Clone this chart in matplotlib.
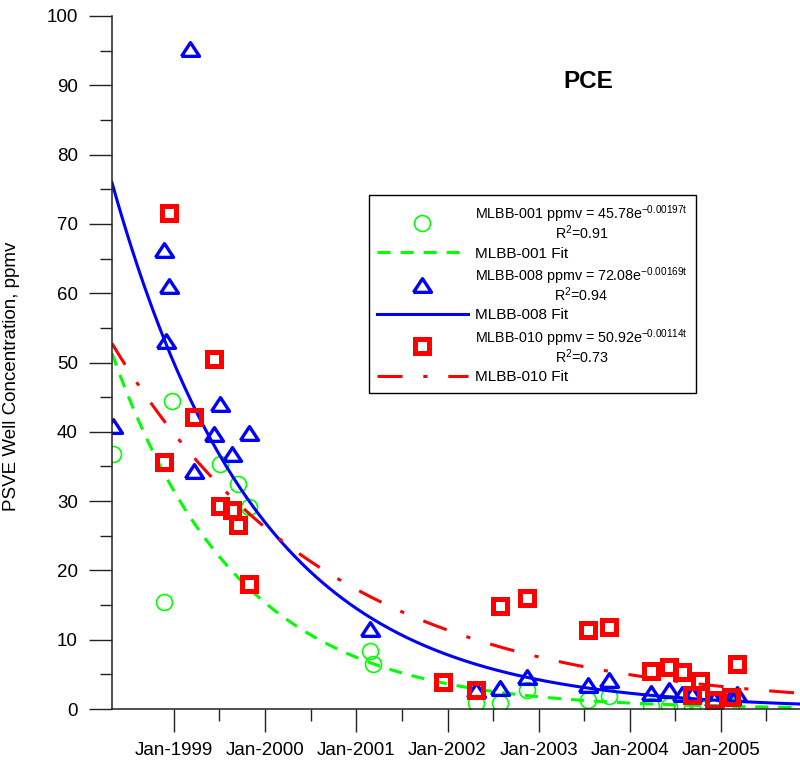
import datetime as dt
import numpy as np
import matplotlib
matplotlib.use("Agg")
import matplotlib.pyplot as plt
import matplotlib.dates as mdates
from matplotlib.lines import Line2D
from matplotlib.markers import MarkerStyle

plt.rcParams['font.family'] = ['Liberation Sans', 'DejaVu Sans']
plt.rcParams['mathtext.fontset'] = 'custom'
plt.rcParams['mathtext.rm'] = 'Liberation Sans'
plt.rcParams['mathtext.default'] = 'rm'

# MLBB-001 samples
dates_001 = ['1998-04-30', '1998-11-20', '1998-12-24', '1999-07-03', '1999-09-15',
             '1999-10-29', '2001-02-23', '2001-03-09', '2002-04-27', '2002-08-01',
             '2002-11-15', '2003-07-19', '2003-10-11', '2004-03-26', '2004-06-06',
             '2004-07-30', '2004-09-06', '2004-10-08', '2004-12-04', '2005-02-12']
ppmv_001 = [36.8, 15.4, 44.4, 35.4, 32.4,
            29.1, 8.3, 6.5, 0.9, 0.8,
            2.8, 1.3, 1.9, 0.4, 0.4,
            0.3, 0.15, 0.2, 0.15, 0.4]

# MLBB-008 samples
dates_008 = ['1998-04-30', '1998-11-20', '1998-12-01', '1998-12-11', '1999-03-06',
             '1999-03-23', '1999-06-09', '1999-07-03', '1999-08-23', '1999-10-29',
             '2001-02-23', '2002-04-27', '2002-08-01', '2002-11-15', '2003-07-19',
             '2003-10-11', '2004-03-26', '2004-06-06', '2004-07-30', '2004-09-06',
             '2004-12-04', '2005-02-12', '2005-03-06']
ppmv_008 = [40.9, 66.3, 53.1, 61.1, 95.2,
            34.4, 39.7, 44.0, 36.8, 39.8,
            11.6, 2.7, 3.0, 4.6, 3.5,
            4.2, 2.3, 2.7, 2.2, 2.2,
            1.4, 1.7, 2.2]

# MLBB-010 samples
dates_010 = ['1998-11-20', '1998-12-11', '1999-03-23', '1999-06-09', '1999-07-03',
             '1999-08-23', '1999-09-15', '1999-10-29', '2001-12-12', '2002-04-27',
             '2002-08-01', '2002-11-15', '2003-07-19', '2003-10-11', '2004-03-26',
             '2004-06-06', '2004-07-30', '2004-09-06', '2004-10-08', '2004-12-04',
             '2005-02-12', '2005-03-06']
ppmv_010 = [35.7, 71.6, 42.2, 50.5, 29.3,
            28.7, 26.5, 18.1, 3.9, 2.8,
            14.8, 16.0, 11.4, 11.9, 5.5,
            6.1, 5.3, 2.0, 4.0, 1.3,
            1.7, 6.5]

# exponential fits: ppmv = a * exp(-k t), t in days
wells = ['MLBB-001', 'MLBB-008', 'MLBB-010']
fit_a = [45.78, 72.08, 50.92]
fit_k = [0.00197, 0.00169, 0.00114]
fit_r2 = ['0.91', '0.94', '0.73']
fit_t0 = ['1998-06-24', '1998-05-28', '1998-05-28']

green, blue, red = '#00ff00', '#0000ff', '#ff0000'

def to_num(ds):
    return mdates.date2num([dt.datetime.strptime(d, '%Y-%m-%d') for d in ds])

x_start = mdates.date2num(dt.datetime(1998, 4, 27))
x_end = mdates.date2num(dt.datetime(2005, 11, 14))
xx = np.linspace(x_start, x_end, 400)

fig = plt.figure(figsize=(8, 7.67), dpi=100)
ax = fig.add_axes([0.14, 58 / 767, 0.86, 693 / 767])

tri = MarkerStyle([(-1, -0.76), (1, -0.76), (0, 0.76), (-1, -0.76)], joinstyle='miter')
sq = MarkerStyle('s', joinstyle='miter')

circ_kw = dict(ls='none', marker='o', mfc='none', mec=green, ms=11.5, mew=1.2)
tri_kw = dict(ls='none', marker=tri, mfc='none', mec=blue, ms=13, mew=2.4)
sq_kw = dict(ls='none', marker=sq, mfc='none', mec=red, ms=9.4, mew=3.6)
lw = 2.2
green_line = dict(color=green, lw=lw, dashes=(9.4 / lw, 7.2 / lw))
blue_line = dict(color=blue, lw=lw)
red_line = dict(color=red, lw=lw, dashes=(18 / lw, 15 / lw, 3 / lw, 15 / lw))

def fit(i):
    t = xx - to_num([fit_t0[i]])[0]
    return fit_a[i] * np.exp(-fit_k[i] * t)

ax.plot(to_num(dates_001), ppmv_001, **circ_kw)
ax.plot(xx, fit(0), **green_line)
ax.plot(to_num(dates_008), ppmv_008, **tri_kw)
ax.plot(xx, fit(1), **blue_line)
ax.plot(to_num(dates_010), ppmv_010, **sq_kw)
ax.plot(xx, fit(2), **red_line)

ax.set_xlim(x_start, x_end)
ax.set_ylim(0, 100)

ax.xaxis.set_major_locator(mdates.YearLocator())
# mid-year minor ticks only between the labelled years
mid_years = to_num(['%d-07-01' % y for y in range(1999, 2006)])
ax.xaxis.set_minor_locator(matplotlib.ticker.FixedLocator(mid_years))
ax.xaxis.set_major_formatter(mdates.DateFormatter('%b-%Y'))
ax.yaxis.set_major_locator(matplotlib.ticker.MultipleLocator(10))
ax.yaxis.set_minor_locator(matplotlib.ticker.MultipleLocator(5))

for s in ['top', 'right']:
    ax.spines[s].set_visible(False)
for s in ['left', 'bottom']:
    ax.spines[s].set_linewidth(1.1)
    ax.spines[s].set_color('#222222')
ax.tick_params(which='major', length=16.5, width=1.0, color='#222222', labelsize=13.5)
ax.tick_params(which='minor', length=8.6, width=1.0, color='#222222')
ax.tick_params(axis='x', which='major', pad=7)
ax.tick_params(axis='y', which='major', pad=8)

ax.set_ylabel('PSVE Well Concentration, ppmv', fontsize=13.5)
ax.yaxis.set_label_coords(-0.134, 0.48)

ax.text(0.692, 0.905, 'PCE', transform=ax.transAxes, ha='center', va='center',
        fontsize=17.5, fontweight='bold')

labels = []
handles = []
marker_kws = [circ_kw, tri_kw, sq_kw]
line_kws = [green_line, blue_line, red_line]
for i, w in enumerate(wells):
    labels.append('%s ppmv = %se$^{-%st}$\nR$^{2}$=%s' % (w, fit_a[i], fit_k[i], fit_r2[i]))
    handles.append(Line2D([], [], **marker_kws[i]))
    labels.append('%s Fit' % w)
    handles.append(Line2D([], [], **line_kws[i]))

leg = ax.legend(handles, labels, loc='upper left', bbox_to_anchor=(0.3735, 0.7417),
                borderaxespad=0, fontsize=11, frameon=True, fancybox=False,
                edgecolor='black', handlelength=5.9, handletextpad=0.5,
                borderpad=0.55, labelspacing=0.3, framealpha=1)
leg.get_frame().set_linewidth(1.0)
for t in leg.get_texts():
    t.set_multialignment('center')
    if '\n' in t.get_text():
        t.set_fontsize(10.3)
        t.set_linespacing(0.9)

fig.savefig('out.png', dpi=100)
